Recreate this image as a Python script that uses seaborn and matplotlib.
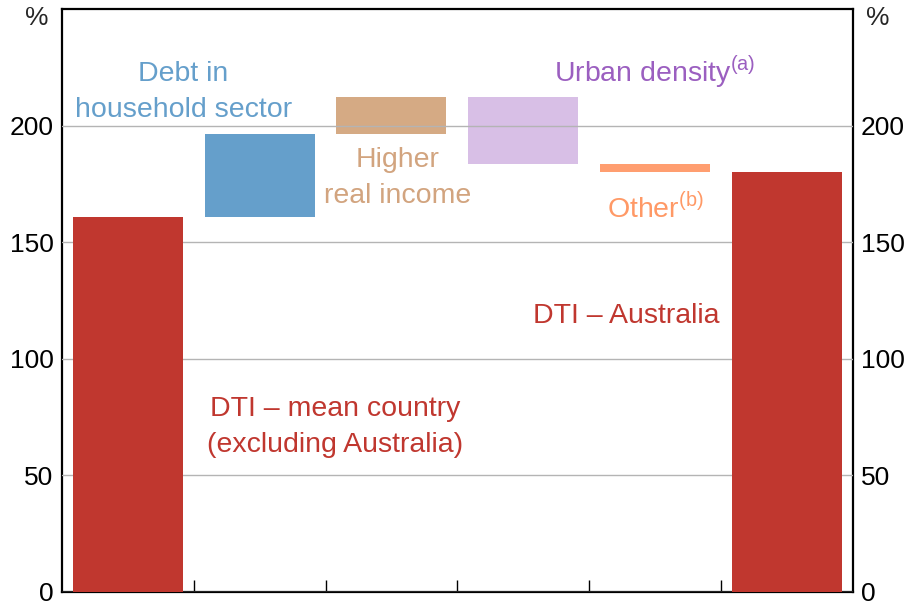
import matplotlib
matplotlib.use("Agg")
from matplotlib import pyplot as plt
import numpy as np
import pandas as pd
import seaborn as sns

# waterfall steps: each bar runs from base to top
steps = ["DTI mean", "Debt", "Income", "Urban", "Other", "DTI Australia"]
base = [0, 160.7, 196.6, 183.5, 180.2, 0]
top = [160.7, 196.6, 212.4, 212.4, 183.5, 180.2]
colours = ["#C0372F", "#659FCB", "#D5AA84", "#D8BFE6", "#FF9E70", "#C0372F"]
yticks = [0, 50, 100, 150, 200]

df = pd.DataFrame({"step": steps, "base": base, "top": top})
df["height"] = df["top"] - df["base"]

sns.set_theme(style="white")
plt.rcParams["font.family"] = ["Liberation Sans", "DejaVu Sans"]
plt.rcParams["mathtext.fontset"] = "custom"
plt.rcParams["mathtext.rm"] = "Liberation Sans"

fig = plt.figure(figsize=(9.11, 6.05), dpi=100)
ax = fig.add_axes([0.068, 0.0215, 0.868, 0.9635])

sns.barplot(data=df, x="step", y="height", bottom=df["base"].values,
            color=colours[0], saturation=1, width=0.835, linewidth=0, ax=ax)
for patch, c in zip(ax.patches, colours):
    patch.set_facecolor(c)
    if c == "#C0372F":
        patch.set_zorder(3)   # red bars hide the grid

ax.set_ylim(0, 250)
ax.set_xlim(-0.5, 5.5)
ax.set_axisbelow(False)
ax.yaxis.grid(True, color="#B4B4B4", linewidth=1)
ax.xaxis.grid(False)
ax.set_yticks(yticks)
ax.set_xticks(np.arange(0.5, 5, 1))
ax.set_xticklabels([])
ax.set_xlabel("")
ax.set_ylabel("")
ax.tick_params(axis="x", direction="in", length=9, width=1, color="black", bottom=True)
ax.tick_params(axis="y", length=0, labelsize=19, pad=6, labelright=True, labelleft=True,
               labelcolor="black")
for s in ax.spines.values():
    s.set_color("black")
    s.set_linewidth(1.6)

ax.text(-0.032, 0.985, "%", transform=ax.transAxes, ha="center", va="center", fontsize=19)
ax.text(1.032, 0.985, "%", transform=ax.transAxes, ha="center", va="center", fontsize=19)

lab = dict(fontsize=20.5, ha="center", va="center", linespacing=1.5)
ax.text(0.42, 214.4, "Debt in\nhousehold sector", color="#659FCB", **lab)
ax.text(2.05, 177.5, "Higher\nreal income", color="#D2A47F", **lab)
ax.text(4.0, 223, r"Urban density$^{\mathregular{(a)}}$", color="#9B5FC0", **lab)
ax.text(4.0, 164.5, r"Other$^{\mathregular{(b)}}$", color="#FF9966", **lab)
ax.text(3.78, 118.4, "DTI – Australia", color="#C0372F", **lab)
ax.text(1.57, 70.8, "DTI – mean country\n(excluding Australia)", color="#C0372F", **lab)

fig.savefig("out.png", dpi=100)
